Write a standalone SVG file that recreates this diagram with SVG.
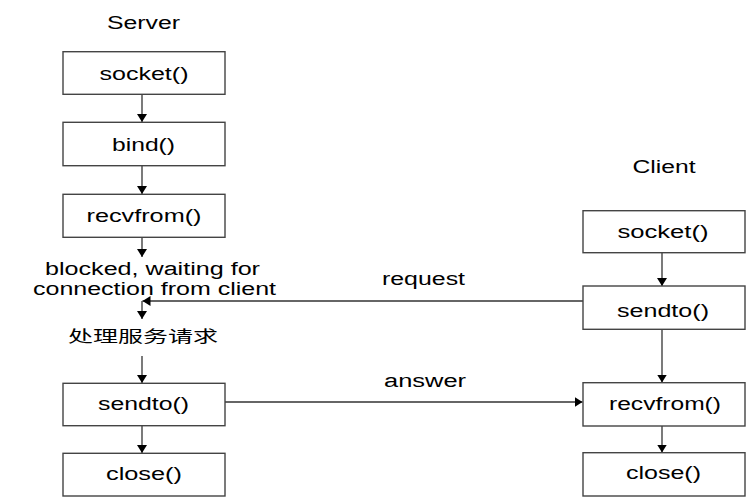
<svg xmlns="http://www.w3.org/2000/svg" width="749" height="499" viewBox="0 0 749 499">
<style>
.box{fill:#fff;stroke:#444;stroke-width:1.4}
.t{font-family:"Liberation Sans",Arial,sans-serif;font-size:18px;fill:#000;text-anchor:middle}
.cjk{font-family:"Noto Sans CJK SC",sans-serif;font-size:16px;fill:#000;text-anchor:middle}
.c{stroke:#333;stroke-width:1.3;fill:none;marker-end:url(#ah)}
</style>
<defs>
<marker id="ah" markerUnits="userSpaceOnUse" markerWidth="10" markerHeight="10" refX="8" refY="5" orient="auto">
<path d="M0,0 L8,5 L0,10 z" fill="#000"/>
</marker>
</defs>
<rect width="749" height="499" fill="#fff"/>
<text class="t" x="143.5" y="28.5" textLength="73" lengthAdjust="spacingAndGlyphs">Server</text>
<text class="t" x="664" y="172.5" textLength="63" lengthAdjust="spacingAndGlyphs">Client</text>
<g id="connectors">
<line class="c" x1="142" y1="94.3" x2="142" y2="122"/>
<line class="c" x1="142" y1="165.7" x2="142" y2="194"/>
<line class="c" x1="142" y1="237.3" x2="142" y2="257"/>
<line class="c" x1="583" y1="301" x2="142.5" y2="301"/>
<line class="c" x1="142" y1="301" x2="142" y2="319"/>
<line class="c" x1="142" y1="356" x2="142" y2="383"/>
<line class="c" x1="142" y1="425.7" x2="142" y2="453"/>
<line class="c" x1="225" y1="402" x2="582.5" y2="402"/>
<line class="c" x1="662" y1="252.7" x2="662" y2="286"/>
<line class="c" x1="662" y1="329.3" x2="662" y2="382.5"/>
<line class="c" x1="662" y1="426" x2="662" y2="452.5"/>
<text class="t" x="423.5" y="285" textLength="83" lengthAdjust="spacingAndGlyphs">request</text>
<text class="t" x="425" y="387" textLength="82" lengthAdjust="spacingAndGlyphs">answer</text>
</g>
<g id="s_socket"><rect class="box" x="63" y="51.7" width="162" height="42.6"/><text class="t" x="144" y="79.5" textLength="89" lengthAdjust="spacingAndGlyphs">socket()</text></g>
<g id="s_bind"><rect class="box" x="63" y="122.3" width="162" height="43.4"/><text class="t" x="143.5" y="150.5" textLength="63" lengthAdjust="spacingAndGlyphs">bind()</text></g>
<g id="s_recvfrom"><rect class="box" x="63" y="194.3" width="162" height="43"/><text class="t" x="144" y="222" textLength="115" lengthAdjust="spacingAndGlyphs">recvfrom()</text></g>
<g id="s_blocked">
<text class="t" x="152.5" y="275" textLength="215" lengthAdjust="spacingAndGlyphs">blocked, waiting for</text>
<text class="t" x="154.5" y="295" textLength="243" lengthAdjust="spacingAndGlyphs">connection from client</text>
</g>
<g id="s_process"><text class="cjk" x="143" y="342" textLength="150" lengthAdjust="spacingAndGlyphs">处理服务请求</text></g>
<g id="s_sendto"><rect class="box" x="63" y="383.3" width="162" height="42.4"/><text class="t" x="143.5" y="410" textLength="91" lengthAdjust="spacingAndGlyphs">sendto()</text></g>
<g id="s_close"><rect class="box" x="63" y="453.3" width="162" height="42.7"/><text class="t" x="144" y="480" textLength="76" lengthAdjust="spacingAndGlyphs">close()</text></g>
<g id="c_socket"><rect class="box" x="583" y="210.7" width="162" height="42"/><text class="t" x="663" y="238" textLength="91" lengthAdjust="spacingAndGlyphs">socket()</text></g>
<g id="c_sendto"><rect class="box" x="583" y="286" width="162" height="43.3"/><text class="t" x="663" y="316.5" textLength="92" lengthAdjust="spacingAndGlyphs">sendto()</text></g>
<g id="c_recvfrom"><rect class="box" x="583" y="382.7" width="162" height="43.3"/><text class="t" x="665" y="410" textLength="112" lengthAdjust="spacingAndGlyphs">recvfrom()</text></g>
<g id="c_close"><rect class="box" x="583" y="452.7" width="162" height="43.3"/><text class="t" x="663.5" y="478.5" textLength="75" lengthAdjust="spacingAndGlyphs">close()</text></g>
</svg>
